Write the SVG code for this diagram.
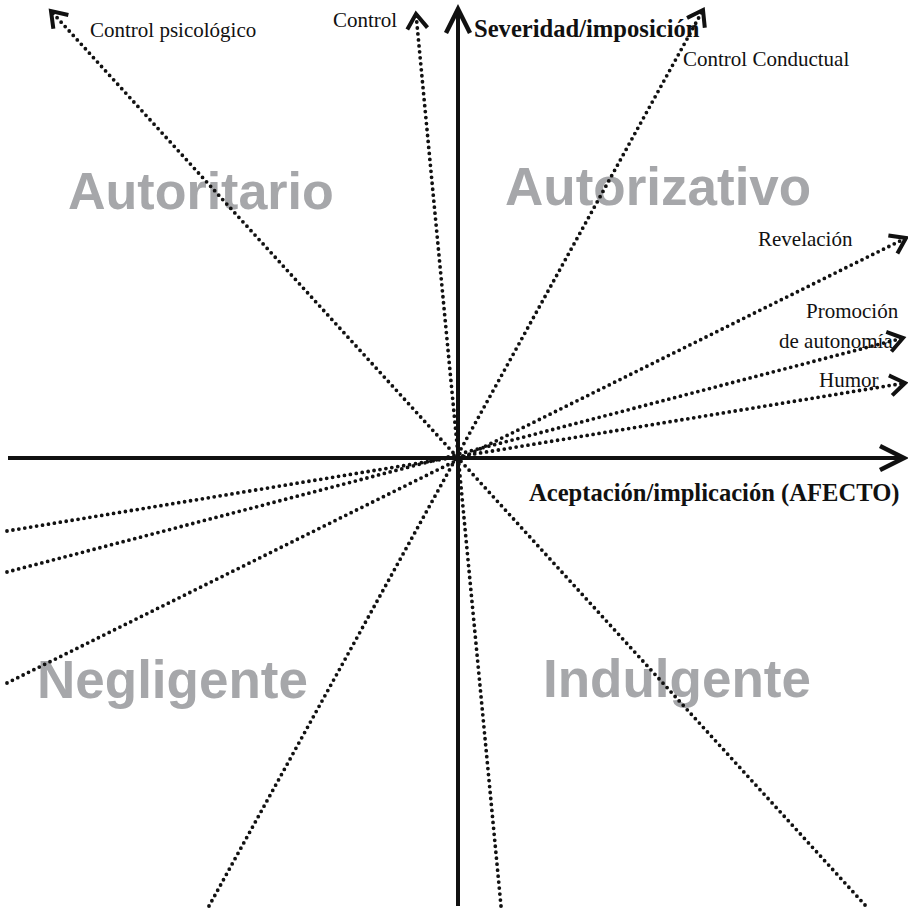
<svg xmlns="http://www.w3.org/2000/svg" width="908" height="908" viewBox="0 0 908 908">
<style>
.dot{fill:none;stroke:#111;stroke-width:3.8;stroke-linecap:round;stroke-dasharray:0 6}
.axis{fill:none;stroke:#111;stroke-width:4}
.lbl{font-family:"Liberation Serif","Times New Roman",serif;font-size:21px;fill:#111}
.ax{font-family:"Liberation Serif","Times New Roman",serif;font-size:24.6px;font-weight:bold;fill:#111}
.quad{font-family:"Liberation Sans",Arial,sans-serif;font-size:53px;font-weight:bold;fill:#a6a7aa}
</style>
<defs>
<marker id="chev" markerUnits="userSpaceOnUse" viewBox="-16 -12 20 24" refX="0" refY="0" markerWidth="20" markerHeight="24" orient="auto" overflow="visible">
<path d="M-13,-9 L0,0 L-13,9" fill="none" stroke="#111" stroke-width="4" stroke-linecap="square" stroke-linejoin="miter"/>
</marker>
<marker id="chevBig" markerUnits="userSpaceOnUse" viewBox="-26 -14 30 28" refX="0" refY="0" markerWidth="30" markerHeight="28" orient="auto" overflow="visible">
<path d="M-24,-12 L0,0 L-24,12" fill="none" stroke="#111" stroke-width="4.5" stroke-linejoin="miter"/>
</marker>
</defs>
<g id="quadrants">
<text class="quad" x="68" y="209" style="font-size:52px">Autoritario</text>
<text class="quad" x="505" y="205">Autorizativo</text>
<text class="quad" x="37" y="698">Negligente</text>
<text class="quad" x="543" y="697">Indulgente</text>
</g>
<g id="connectors">
<line class="dot" x1="865" y1="905" x2="51" y2="11" marker-end="url(#chev)"/>
<line class="dot" x1="501" y1="906" x2="416" y2="14" marker-end="url(#chev)"/>
<line class="dot" x1="209" y1="906" x2="703" y2="10" marker-end="url(#chev)"/>
<line class="dot" x1="7" y1="683" x2="906" y2="238" marker-end="url(#chev)"/>
<line class="dot" x1="7" y1="572" x2="903" y2="338" marker-end="url(#chev)"/>
<line class="dot" x1="7" y1="531" x2="905" y2="383" marker-end="url(#chev)"/>
</g>
<g id="axes">
<line class="axis" x1="458" y1="906" x2="458" y2="9" marker-end="url(#chevBig)"/>
<line class="axis" x1="8" y1="458" x2="904" y2="458" marker-end="url(#chevBig)"/>
</g>
<g id="labels">
<text class="lbl" x="90" y="37">Control psicológico</text>
<text class="lbl" x="333" y="27">Control</text>
<text class="ax" x="474" y="37">Severidad/imposición</text>
<text class="lbl" x="683" y="66">Control Conductual</text>
<text class="lbl" x="758" y="246">Revelación</text>
<text class="lbl" x="806" y="318">Promoción</text>
<text class="lbl" x="779" y="348">de autonomía</text>
<text class="lbl" x="819" y="387">Humor</text>
<text class="ax" x="529" y="501">Aceptación/implicación (AFECTO)</text>
</g>
</svg>
